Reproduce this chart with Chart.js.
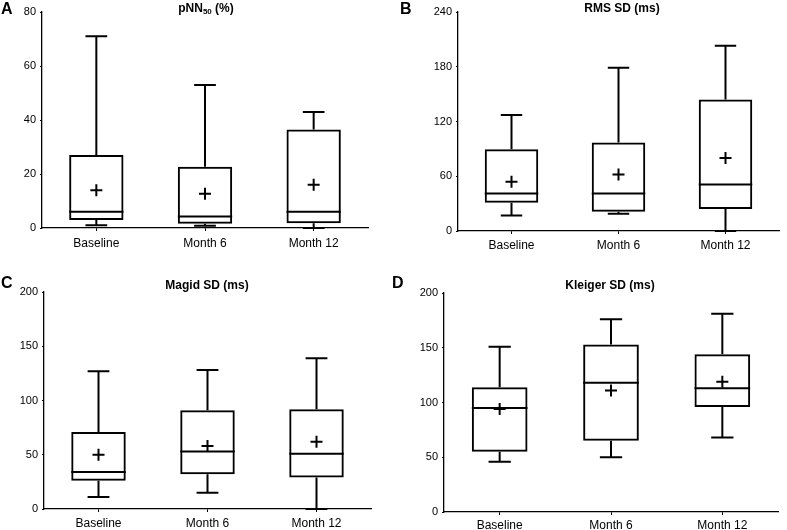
<!DOCTYPE html>
<html>
<head>
<meta charset="utf-8">
<script src="https://cdn.jsdelivr.net/npm/chart.js@4.4.1/dist/chart.umd.min.js"></script>
<style>
    body { margin: 0; background: #fff; font-family: "Liberation Sans", Arial, sans-serif; }
    #wrap { position: relative; width: 787px; height: 530px; }
    canvas { position: absolute; left: 0; top: 0; }
    .letter { position: absolute; font-weight: bold; font-size: 16px; line-height: 16px; color: #000; }
    .title { position: absolute; font-weight: bold; font-size: 12px; line-height: 14px; color: #000; transform: translateX(-50%); white-space: nowrap; }
    .title sub { font-size: 8px; vertical-align: -2px; line-height: 0; }
</style>
</head>
<body>
<div id="wrap">
    <canvas id="chart-a" width="787" height="530"></canvas>
    <canvas id="chart-b" width="787" height="530"></canvas>
    <canvas id="chart-c" width="787" height="530"></canvas>
    <canvas id="chart-d" width="787" height="530"></canvas>
    <div class="letter" style="left:1px; top:1px;">A</div>
    <div class="letter" style="left:400px; top:1px;">B</div>
    <div class="letter" style="left:1px; top:275px;">C</div>
    <div class="letter" style="left:392px; top:275px;">D</div>
    <div class="title" style="left:206px; top:1px;">pNN<sub>50</sub> (%)</div>
    <div class="title" style="left:622px; top:1px;">RMS SD (ms)</div>
    <div class="title" style="left:207px; top:278px;">Magid SD (ms)</div>
    <div class="title" style="left:610px; top:278px;">Kleiger SD (ms)</div>
</div>
<script>
// Categories shared by all panels
const categories = ['Baseline', 'Month 6', 'Month 12'];

// A: pNN50 (%)
const pnnMin = [1, 0.8, 0];
const pnnQ1 = [3, 1.6, 1.8];
const pnnMedian = [6, 4.3, 6];
const pnnQ3 = [27, 22.7, 36.5];
const pnnMax = [71, 53, 43];
const pnnMean = [14, 12.7, 16];

// B: RMS SD (ms)
const rmsMin = [17, 19, 0];
const rmsQ1 = [31, 21, 24];
const rmsMedian = [41, 41, 51];
const rmsQ3 = [89.5, 97, 144];
const rmsMax = [127, 179, 203];
const rmsMean = [54, 62, 80];

// C: Magid SD (ms)
const magidMin = [11, 15, 0];
const magidQ1 = [26, 32, 29];
const magidMedian = [34, 53, 51];
const magidQ3 = [71, 91, 92];
const magidMax = [127, 128, 139];
const magidMean = [50, 58, 62];

// D: Kleiger SD (ms)
const kleigerMin = [46, 50, 68];
const kleigerQ1 = [55, 65, 96];
const kleigerMedian = [95, 118, 113];
const kleigerQ3 = [114, 153, 144];
const kleigerMax = [151, 176, 181];
const kleigerMean = [94, 111, 119];

// y axis ranges
const pnnTicks = { max: 80, step: 20 };
const rmsTicks = { max: 240, step: 60 };
const magidTicks = { max: 200, step: 50 };
const kleigerTicks = { max: 200, step: 50 };

// whiskers, caps and median lines, drawn on top of the floating bars
const whiskerPlugin = {
    id: 'whiskers',
    afterDatasetsDraw(chart) {
        const box = chart.config.options.plugins.whiskers;
        const xs = chart.scales.x;
        const ys = chart.scales.y;
        const bars = chart.getDatasetMeta(0).data;
        const ctx = chart.ctx;
        ctx.save();
        ctx.strokeStyle = '#000';
        ctx.lineWidth = 2;
        ctx.lineCap = 'butt';
        box.min.forEach(function(v, i) {
            const x = xs.getPixelForValue(i);
            const w = bars[i].width;
            const cap = w * 0.2;
            const yMin = ys.getPixelForValue(box.min[i]);
            const yMax = ys.getPixelForValue(box.max[i]);
            const yQ1 = ys.getPixelForValue(box.q1[i]);
            const yQ3 = ys.getPixelForValue(box.q3[i]);
            const yMed = ys.getPixelForValue(box.median[i]);
            ctx.beginPath();
            ctx.moveTo(x, yQ3); ctx.lineTo(x, yMax);
            ctx.moveTo(x - cap, yMax); ctx.lineTo(x + cap, yMax);
            ctx.moveTo(x, yQ1); ctx.lineTo(x, yMin);
            ctx.moveTo(x - cap, yMin); ctx.lineTo(x + cap, yMin);
            ctx.moveTo(x - w / 2, yMed); ctx.lineTo(x + w / 2, yMed);
            ctx.stroke();
        });
        ctx.restore();
    }
};

function makePanel(id, area, labelGap, mins, q1s, medians, q3s, maxs, means, range) {
    const yWidth = 30;
    const xHeight = 26;
    const boxes = q1s.map(function(q, i) { return [q, q3s[i]]; });
    return new Chart(document.getElementById(id), {
        type: 'bar',
        data: {
            labels: categories,
            datasets: [{
                data: boxes,
                backgroundColor: 'rgba(0,0,0,0)',
                borderColor: '#000',
                borderWidth: 2,
                borderSkipped: false,
                barPercentage: 0.5,
                categoryPercentage: 1
            }, {
                type: 'line',
                data: means,
                showLine: false,
                pointStyle: 'cross',
                pointRadius: 6,
                pointBorderWidth: 2,
                borderColor: '#000',
                pointBorderColor: '#000'
            }]
        },
        options: {
            responsive: false,
            animation: false,
            events: [],
            layout: {
                padding: {
                    left: area.left - yWidth,
                    right: 787 - area.right,
                    top: area.top,
                    bottom: 530 - area.bottom - xHeight
                }
            },
            plugins: {
                legend: { display: false },
                tooltip: { enabled: false },
                whiskers: { min: mins, q1: q1s, median: medians, q3: q3s, max: maxs }
            },
            scales: {
                x: {
                    offset: true,
                    grid: { drawOnChartArea: false, drawTicks: true, tickLength: 3, color: '#000', offset: false },
                    border: { display: true, color: '#000', width: 1.3 },
                    ticks: { color: '#000', padding: labelGap, font: { family: 'Liberation Sans', size: 12 }, maxRotation: 0 },
                    afterFit: function(s) { s.height = xHeight; }
                },
                y: {
                    min: 0,
                    max: range.max,
                    grid: { drawOnChartArea: false, drawTicks: true, tickLength: 2, color: '#000' },
                    border: { display: true, color: '#000', width: 1.3 },
                    ticks: { stepSize: range.step, color: '#000', padding: 4, font: { family: 'Liberation Sans', size: 11 } },
                    afterFit: function(s) { s.width = yWidth; }
                }
            }
        },
        plugins: [whiskerPlugin]
    });
}

makePanel('chart-a', { left: 42, right: 368, top: 12, bottom: 228 }, 5,
    pnnMin, pnnQ1, pnnMedian, pnnQ3, pnnMax, pnnMean, pnnTicks);
makePanel('chart-b', { left: 458, right: 783, top: 12, bottom: 231 }, 4,
    rmsMin, rmsQ1, rmsMedian, rmsQ3, rmsMax, rmsMean, rmsTicks);
makePanel('chart-c', { left: 44, right: 371, top: 292, bottom: 509 }, 4,
    magidMin, magidQ1, magidMedian, magidQ3, magidMax, magidMean, magidTicks);
makePanel('chart-d', { left: 444, right: 778, top: 293, bottom: 512 }, 3,
    kleigerMin, kleigerQ1, kleigerMedian, kleigerQ3, kleigerMax, kleigerMean, kleigerTicks);
</script>
</body>
</html>
